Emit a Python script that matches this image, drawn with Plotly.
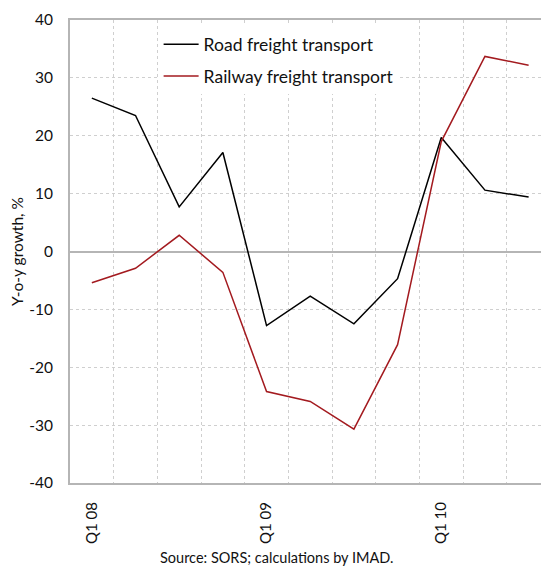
import plotly.graph_objects as go

quarters = ["Q1 08", "Q2 08", "Q3 08", "Q4 08", "Q1 09", "Q2 09", "Q3 09", "Q4 09",
            "Q1 10", "Q2 10", "Q3 10"]
road = [26.5, 23.5, 7.7, 17.1, -12.8, -7.7, -12.5, -4.7, 19.7, 10.6, 9.4]
railway = [-5.4, -2.9, 2.8, -3.6, -24.2, -25.9, -30.7, -16.1, 19.0, 33.7, 32.2]
label_quarters = ["Q1 08", "Q1 09", "Q1 10"]
y_ticks = [-40, -30, -20, -10, 0, 10, 20, 30, 40]

FONT = "Lato"
x_idx = list(range(len(quarters)))

fig = go.Figure()
fig.add_trace(go.Scatter(x=x_idx, y=road, mode="lines", name="Road freight transport",
                         legendgroup="a", line=dict(color="#000000", width=1.5)))
fig.add_trace(go.Scatter(x=x_idx, y=railway, mode="lines", name="Railway freight transport",
                         legendgroup="b", line=dict(color="#a31a1f", width=1.5)))

fig.update_layout(
    width=541, height=558,
    margin=dict(l=60, r=0, t=12, b=83),
    paper_bgcolor="white", plot_bgcolor="white",
    font=dict(family=FONT, size=15, color="#111111"),
    showlegend=True,
    legend=dict(x=0.185, y=0.986, xanchor="left", yanchor="top", bgcolor="white",
                font=dict(size=17.5, family=FONT), itemwidth=35, tracegroupgap=6,
                traceorder="grouped"),
    annotations=[dict(text="Source: SORS; calculations by IMAD.", xref="paper", yref="paper",
                      x=(267 - 60) / 481, y=0, yshift=-74, showarrow=False,
                      xanchor="center", yanchor="middle",
                      font=dict(size=14.5, family=FONT))],
)
fig.update_xaxes(
    range=[-0.5, -0.5 + 481 / 43.86],
    tickmode="array",
    tickvals=[quarters.index(q) for q in label_quarters],
    ticktext=label_quarters,
    tickangle=-90,
    ticks="", ticklabelstandoff=11,
    showgrid=False,
    showline=True, linecolor="#b5b5b5", linewidth=2, mirror=True,
    zeroline=False,
    tickfont=dict(size=15),
    minor=dict(tickmode="array", tickvals=[i + 0.5 for i in x_idx], showgrid=True,
               gridcolor="#cfcfcf", griddash="dot", gridwidth=1, ticks=""),
)
fig.update_yaxes(
    range=[-40, 40],
    tickmode="array", tickvals=y_ticks, ticktext=[str(v) for v in y_ticks],
    ticks="", ticklabelstandoff=12,
    showgrid=True, gridcolor="#cfcfcf", griddash="dot", gridwidth=1,
    zeroline=True, zerolinecolor="#b5b5b5", zerolinewidth=2,
    showline=True, linecolor="#b5b5b5", linewidth=2,
    title=dict(text="Y-o-y growth, %", font=dict(size=15.5), standoff=10),
    tickfont=dict(size=15.5),
)

fig.write_html("out.html")
